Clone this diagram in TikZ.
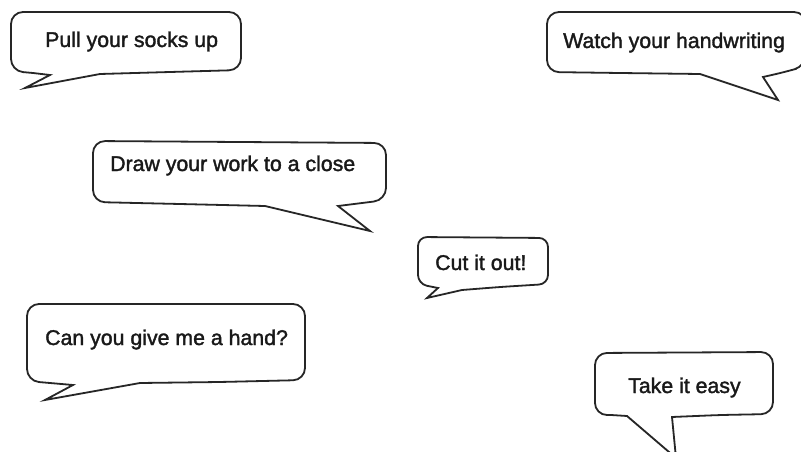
\documentclass[tikz,border=0pt]{standalone}
\usepackage{fontspec}
\setmainfont{Liberation Sans}
\newfontfamily\bubblefont[FakeBold=1.6]{Liberation Sans}
\begin{document}
\begin{tikzpicture}[x=1pt,y=-1pt,
  bubble/.style={draw=black!85, line width=1.8pt, fill=white},
  saying/.style={font=\bubblefont\fontsize{21.3}{25}\selectfont, inner sep=0pt, text=black!90, anchor=base west}]
\useasboundingbox (0,0) rectangle (801,452);
\fill[white] (0,0) rectangle (801,452);
\begin{scope}
\clip (0,0) rectangle (801,452);
% Pull your socks up
\draw[bubble] (50,75) -- (33,73) [rounded corners=12pt] -- (11,71) -- (11,12) -- (241,12) -- (241,70) -- (170,72) [sharp corners] -- (100,74) -- (25,88) -- cycle;
% Watch your handwriting
\draw[bubble] (700,74) -- (620,73) [rounded corners=12pt] -- (547,72) -- (547,12) -- (806,12) -- (806,66) -- (785,72) [sharp corners] -- (763,77) -- (778,100) -- cycle;
% Draw your work to a close
\draw[bubble] (265,206) -- (180,204) [rounded corners=12pt] -- (93,202) -- (93,141) -- (386,143) -- (386,200) -- (362,203) [sharp corners] -- (338,206) -- (370,231) -- cycle;
% Cut it out!
\draw[bubble] (438,288) -- (428,286) [rounded corners=9pt] -- (418,284) -- (418,237) -- (548,238) -- (548,284) -- (500,287) [sharp corners] -- (462,290) -- (427,298) -- cycle;
% Can you give me a hand?
\draw[bubble] (73,385) -- (50,383) [rounded corners=12pt] -- (27,381) -- (27,304) -- (305,304) -- (305,380) -- (220,382) [sharp corners] -- (140,383) -- (45,400) -- cycle;
% Take it easy
\draw[bubble] (627,416) -- (611,415) [rounded corners=12pt] -- (595,415) -- (595,353) -- (773,352) -- (773,414) -- (720,415) [sharp corners] -- (672,417) -- (676,458) -- cycle;
\end{scope}
\node[saying] (socks) at (45,47) {Pull your socks up};
\node[saying] (hand) at (563,48) {Watch your handwriting};
\node[saying] (close) at (110,171) {Draw your work to a close};
\node[saying] (cut) at (435,270) {Cut it out!};
\node[saying] (give) at (45,345) {Can you give me a hand?};
\node[saying] (easy) at (628,393) {Take it easy};
\end{tikzpicture}
\end{document}
